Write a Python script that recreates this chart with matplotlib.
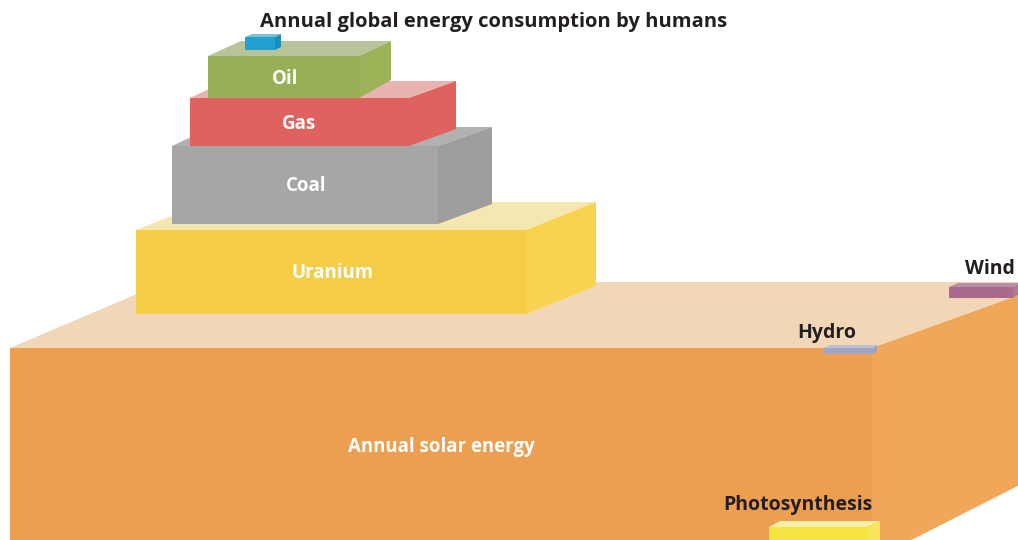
import matplotlib
matplotlib.use("Agg")
import matplotlib.pyplot as plt
from matplotlib.patches import Polygon

plt.rcParams["font.family"] = ["Open Sans", "DejaVu Sans"]

# --- content -----------------------------------------------------------
title = "Annual global energy consumption by humans"
box_names = ["solar", "hydro", "wind", "photo", "uranium", "coal", "gas", "oil", "other"]
inner_labels = ["Annual solar energy", "", "", "", "Uranium", "Coal", "Gas", "Oil", ""]
outer_labels = ["", "Hydro", "Wind", "Photosynthesis", "", "", "", "", ""]
front_colors = ["#EC9F51", "#A2A5C5", "#A96A8E", "#F5E53E", "#F5CE45",
                "#A6A6A6", "#DF625E", "#97AF55", "#22A1D0"]
top_colors = ["#F2D6B8", "#BCC0D3", "#B98FA4", "#F8F0A8", "#F6E6B0",
              "#B1B1B1", "#E8B3AF", "#B7C49A", "#7DBFD7"]
side_colors = ["#F0A75A", "#9EA1C0", "#B07A97", "#F8E55A", "#F7D34F",
               "#9C9D9C", "#DF625E", "#9BB257", "#1C8DB8"]

# --- layout (pixel space, y down): front face x0,x1,y0,y1 and back edges
# back_top, back_left, back_right, back_bottom (far end of the right face)
geom = {
    "solar":   (10, 872, 348, 560, 282, 165, 1055, 467),
    "hydro":   (823, 873, 348, 354, 345, 830, 877, 351),
    "wind":    (949, 1013, 287, 298, 283, 958, 1020, 294),
    "photo":   (769, 867, 527, 560, 521, 780, 880, 556),
    "uranium": (136, 526, 230, 314, 202, 207, 596, 286),
    "coal":    (172, 438, 146, 224, 127, 212, 492, 204),
    "gas":     (190, 409, 98, 146, 81, 226, 456, 129),
    "oil":     (208, 359, 56, 98, 41, 241, 391, 80),
    "other":   (245, 275, 37, 50, 34, 252, 281, 47),
}
inner_pos = {"solar": (441, 447), "uranium": (332, 273), "coal": (306, 186),
             "gas": (299, 124), "oil": (285, 79)}
outer_pos = {"hydro": (827, 333), "wind": (990, 269), "photo": (798, 505)}

W, H = 1018, 540
fig = plt.figure(figsize=(W / 100, H / 100), dpi=100)
ax = fig.add_axes([0, 0, 1, 1])
ax.set_xlim(0, W)
ax.set_ylim(H, 0)
ax.axis("off")


def draw_box(key, front, top, side, z):
    x0, x1, y0, y1, bt, bl, br, bb = geom[key]
    ax.add_patch(Polygon([(x0, y0), (bl, bt), (br, bt), (x1, y0)],
                         closed=True, fc=top, ec="none", zorder=z))
    ax.add_patch(Polygon([(x1, y0), (br, bt), (br, bb), (x1, y1)],
                         closed=True, fc=side, ec="none", zorder=z))
    ax.add_patch(Polygon([(x0, y0), (x1, y0), (x1, y1), (x0, y1)],
                         closed=True, fc=front, ec="none", zorder=z + 0.1))


for i, key in enumerate(box_names):
    draw_box(key, front_colors[i], top_colors[i], side_colors[i], z=i + 1)
    if inner_labels[i]:
        x, y = inner_pos[key]
        ax.text(x, y, inner_labels[i], color="white", fontsize=13.4,
                fontweight="bold", ha="center", va="center", zorder=20)
    if outer_labels[i]:
        x, y = outer_pos[key]
        ax.text(x, y, outer_labels[i], color="#231F20", fontsize=14,
                fontweight="bold", ha="center", va="center", zorder=20)

ax.text(494, 22, title, color="#231F20", fontsize=14.5, fontweight="bold",
        ha="center", va="center", zorder=20)

fig.savefig("out.png", dpi=100)
